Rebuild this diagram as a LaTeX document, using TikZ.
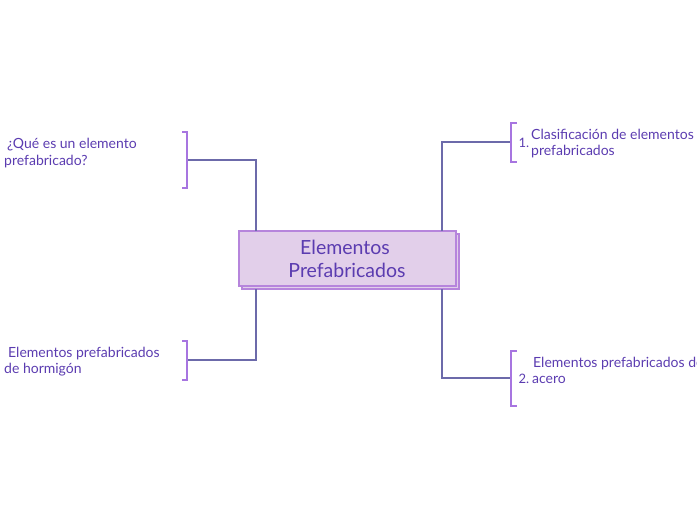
\documentclass[tikz,border=0pt]{standalone}
\usepackage{fontspec}
\setmainfont{Lato}
\definecolor{txt}{HTML}{5B3CB0}
\definecolor{conn}{HTML}{6C6AAA}
\definecolor{brk}{HTML}{A775E0}
\definecolor{boxfill}{HTML}{E2CFEA}
\definecolor{boxline}{HTML}{B685DC}
\tikzset{
  x=1pt, y=-1pt,
  lbl/.style={anchor=base west, inner sep=0pt, text=txt, font=\fontsize{14}{16}\selectfont},
  num/.style={anchor=base east, inner sep=0pt, text=txt, font=\fontsize{13}{16}\selectfont},
  ttl/.style={anchor=base, inner sep=0pt, text=txt, font=\fontsize{19.5}{22}\selectfont},
  connector/.style={draw=conn, line width=1.3pt},
  bracket/.style={draw=brk, line width=1.8pt},
}
\begin{document}
\begin{tikzpicture}
\useasboundingbox (0,0) rectangle (697,520);
% central box with shadow
\draw[draw=boxline, fill=boxfill, line width=1.2pt] (242,234) rectangle (459,289);
\draw[draw=boxline, fill=boxfill, line width=1.2pt] (239,231) rectangle (456,286);
\node (center) at (347.5,258.5) {};
\node[ttl] (t1) at (345,254) {Elementos};
\node[ttl] (t2) at (347,277) {Prefabricados};
% anchor coordinates
\coordinate (ctl) at (256,231);
\coordinate (cbl) at (256,289);
\coordinate (ctr) at (442,231);
\coordinate (cbr) at (442,289);
\coordinate (bTL) at (187,160);
\coordinate (bBL) at (187,360);
\coordinate (bTR) at (511,142);
\coordinate (bBR) at (511,378);
% connectors
\draw[connector] (ctl) |- (bTL);
\draw[connector] (cbl) |- (bBL);
\draw[connector] (ctr) |- (bTR);
\draw[connector] (cbr) |- (bBR);
% brackets
\draw[bracket] (182,132) -- (187,132) -- (187,188) -- (182,188);
\draw[bracket] (182,341) -- (187,341) -- (187,380) -- (182,380);
\draw[bracket] (517,123) -- (511,123) -- (511,162) -- (517,162);
\draw[bracket] (517,351) -- (511,351) -- (511,406) -- (517,406);
% labels
\node[lbl] (q1) at (7,148) {¿Qué es un elemento};
\node[lbl] (q2) at (4,165) {prefabricado?};
\node[lbl] (h1) at (8,357) {Elementos prefabricados};
\node[lbl] (h2) at (4,373) {de hormigón};
\node[num] (n1) at (529.5,147) {1.};
\node[lbl] (c1) at (531,139) {Clasificación de elementos};
\node[lbl] (c2) at (531,155) {prefabricados};
\node[lbl] (a1) at (533,367) {Elementos prefabricados de};
\node[num] (n2) at (529.5,383) {2.};
\node[lbl] (a2) at (532,383) {acero};
\end{tikzpicture}
\end{document}
